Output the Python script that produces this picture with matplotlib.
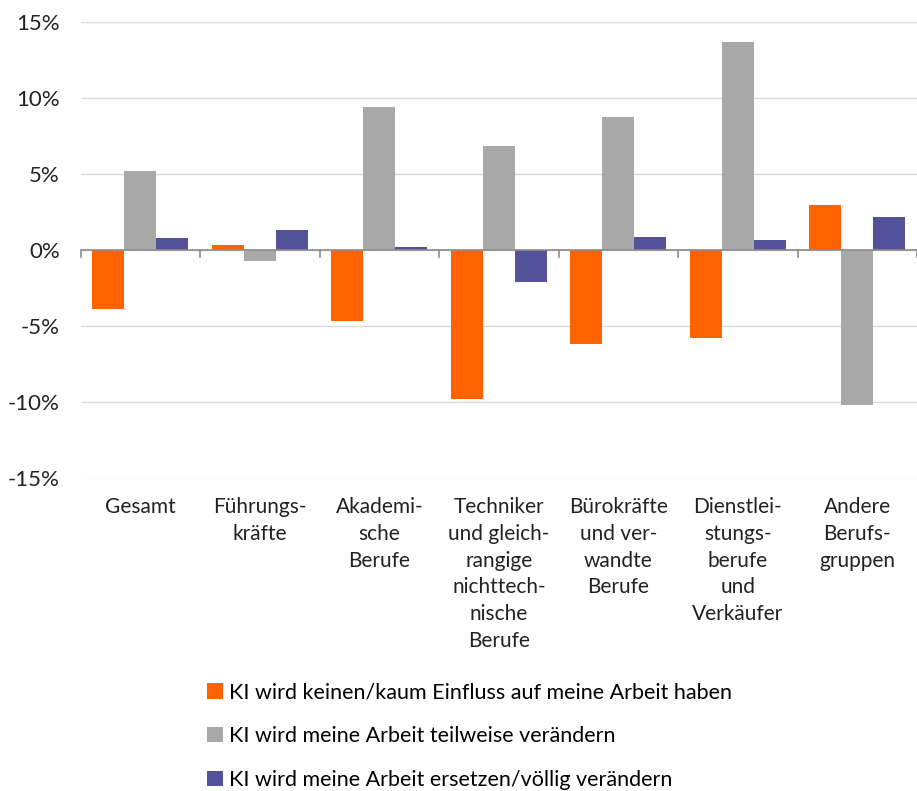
import numpy as np
import matplotlib
matplotlib.use("Agg")
import matplotlib.pyplot as plt
from matplotlib.patches import Patch

plt.rcParams['font.family'] = ['Lato', 'DejaVu Sans']

# Kategorien (Berufsgruppen)
kategorien = ["Gesamt", "Führungs-\nkräfte", "Akademi-\nsche\nBerufe",
              "Techniker\nund gleich-\nrangige\nnichttech-\nnische\nBerufe",
              "Bürokräfte\nund ver-\nwandte\nBerufe",
              "Dienstlei-\nstungs-\nberufe\nund\nVerkäufer",
              "Andere\nBerufs-\ngruppen"]

# Werte in Prozent
kein_einfluss = [-3.9, 0.3, -4.7, -9.8, -6.2, -5.8, 2.95]
teilweise = [5.2, -0.7, 9.4, 6.85, 8.75, 13.7, -10.2]
ersetzen = [0.8, 1.3, 0.2, -2.1, 0.85, 0.65, 2.15]

serien = ["KI wird keinen/kaum Einfluss auf meine Arbeit haben",
          "KI wird meine Arbeit teilweise verändern",
          "KI wird meine Arbeit ersetzen/völlig verändern"]
farben = ["#FF6200", "#A8A8A8", "#525199"]

fig = plt.figure(figsize=(9.17, 7.91), dpi=100)
ax = fig.add_axes([0.088, 0.396, 0.912, 0.576])

x = np.arange(len(kategorien))
w = 0.268
for i, (werte, farbe) in enumerate(zip([kein_einfluss, teilweise, ersetzen], farben)):
    ax.bar(x + (i - 1) * w, werte, width=w, color=farbe, zorder=3)

ax.set_xlim(-0.5, len(kategorien) - 0.5)
ax.set_ylim(-15, 15)
ax.set_yticks([-15, -10, -5, 0, 5, 10, 15])
ax.set_yticklabels([f"{v}%" for v in [-15, -10, -5, 0, 5, 10, 15]], fontsize=16, color="#222222")
ax.yaxis.grid(True, color="#D9D9D9", linewidth=1)
ax.set_axisbelow(True)
ax.tick_params(axis="y", length=0, pad=15)

ax.set_xticks(x)
ax.set_xticklabels(kategorien, fontsize=15, color="#222222", linespacing=1.42, va="top")
ax.tick_params(axis="x", which="major", length=0, pad=14)
for s in ax.spines.values():
    s.set_visible(False)

# Nulllinie mit kleinen Trennstrichen
ax.axhline(0, color="#8C8C8C", linewidth=1.2, zorder=4)
for b in np.arange(-0.5, len(kategorien), 1.0):
    ax.plot([b, b], [0, -0.45], color="#8C8C8C", linewidth=1.2, zorder=4, clip_on=False)

handles = [Patch(facecolor=f, edgecolor="none") for f in farben]
fig.legend(handles, serien, loc="upper left", bbox_to_anchor=(0.226, 0.137), frameon=False,
           fontsize=15.5, handlelength=0.72, handleheight=0.72, handletextpad=0.3,
           labelspacing=1.1, borderaxespad=0, borderpad=0)

fig.savefig("out.png", dpi=100)
